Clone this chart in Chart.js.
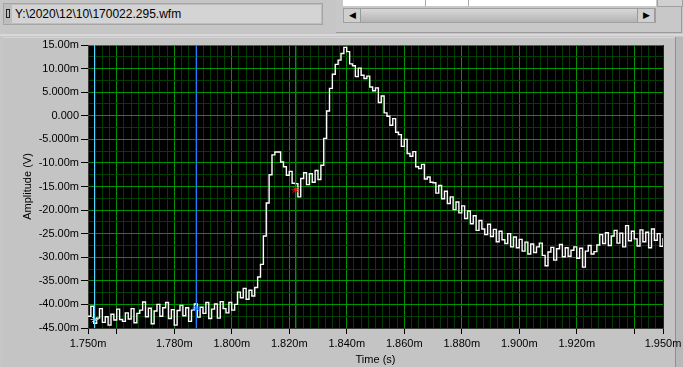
<!DOCTYPE html>
<html lang="en">
<head>
<meta charset="UTF-8">
<title>Waveform Graph</title>
<script src="https://cdn.jsdelivr.net/npm/chart.js"></script>
<style>
  body { margin: 0; width: 683px; height: 367px; overflow: hidden; background: #c6c6c6; font-family: "Liberation Sans", Arial, sans-serif; position: relative; }
  .path-box { position: absolute; left: 3px; top: 3px; width: 318px; height: 20px; border: 1px solid #a4a4a4; background: #bdbdbd; }
  .path-field { position: absolute; left: 8px; top: 1px; right: 1px; bottom: 1px; background: #d4d4d4; font-size: 12px; line-height: 18px; padding-left: 3px; color: #000; }
  .path-icon { position: absolute; left: 2px; top: 5px; width: 4px; height: 9px; border: 1px solid #222; box-sizing: border-box; }
  .side-panel { position: absolute; left: 336px; top: -2px; width: 345px; height: 34px; background: #c8c8c8; border-right: 1px solid #9a9a9a; border-bottom: 1px solid #9a9a9a; }
  .table-area { position: absolute; left: 7px; top: 0; width: 313px; height: 8px; background: #fff; }
  .table-area i { position: absolute; top: 0; width: 1px; height: 8px; background: #aaa; }
  .hscroll { position: absolute; left: 7px; top: 10px; width: 313px; height: 15px; background: linear-gradient(#d8d8d8, #b4b4b4); border: 1px solid #a0a0a0; box-sizing: border-box; }
  .btn { position: absolute; top: 0; width: 16px; height: 13px; background: #cfcfcf; border-right: 1px solid #9a9a9a; font-size: 9px; line-height: 13px; text-align: center; }
  .vbtn { position: absolute; left: 321px; top: 0; width: 24px; height: 7px; background: #d0d0d0; border: 1px solid #a0a0a0; }
  .sep { position: absolute; left: 0; top: 34px; width: 683px; height: 2px; background: #d8d8d8; }
  .graph-panel { position: absolute; left: 3px; top: 37px; width: 672px; height: 330px; background: #c4c4c4; border-top: 1px solid #d6d6d6; }
  .right-strip { position: absolute; left: 675px; top: 37px; width: 8px; height: 330px; background: #b8b8b8; border-left: 1px solid #8e8e8e; }
  #graph { position: absolute; left: 0; top: 37px; }
</style>
</head>
<body>
<div class="path-box">
  <div class="path-icon"></div>
  <div class="path-field">Y:\2020\12\10\170022.295.wfm</div>
</div>
<div class="side-panel">
  <div class="table-area"><i style="left:82px"></i><i style="left:125px"></i><i style="left:20px;width:6px;height:2px;background:#d00"></i></div>
  <div class="vbtn"></div>
  <div class="hscroll">
    <div class="btn" style="left:0">&#9664;</div>
    <div class="btn" style="left:293px;border-left:1px solid #9a9a9a">&#9654;</div>
  </div>
</div>
<div class="sep"></div>
<div class="graph-panel"></div>
<div class="right-strip"></div>
<canvas id="graph" width="683" height="330"></canvas>

<script>
// waveform: t0 and dt in ms, amplitude in mV
const T0 = 1.750;
const DT = 0.001;
const amplitude = [
  -42.5, -40.4, -44.0, -42.9, -40.9, -43.8, -42.6, -44.4, -42.1, -43.3,
  -41.0, -43.2, -43.6, -41.8, -43.1, -40.9, -43.9, -41.9, -41.2, -39.5,
  -42.6, -40.8, -44.1, -41.4, -40.0, -42.5, -40.7, -39.6, -43.0, -41.1,
  -44.4, -41.3, -40.2, -42.4, -40.7, -43.6, -41.2, -39.9, -42.7, -40.6,
  -41.9, -39.6, -43.0, -41.0, -39.9, -42.9, -39.4, -40.9, -41.8, -39.6,
  -41.2, -40.0, -37.4, -38.6, -36.6, -38.9, -37.0, -38.2, -36.4, -34.2,
  -31.5, -25.5, -18.5, -12.5, -8.3, -7.7, -7.7, -9.8, -10.8, -12.6,
  -11.8, -14.3, -14.4, -17.2, -13.3, -12.1, -14.6, -12.3, -14.1, -11.6,
  -13.5, -10.5, -4.8, 1.0, 5.8, 8.8, 10.9, 11.8, 13.2, 14.5,
  13.6, 11.0, 10.6, 8.3, 10.1, 8.6, 7.9, 8.4, 6.1, 5.3,
  5.9, 2.8, 4.2, 0.6, -0.1, -2.0, -0.6, -3.5, -4.0, -6.5,
  -5.0, -8.0, -8.6, -7.6, -10.8, -11.2, -10.3, -13.4, -13.0, -14.1,
  -14.2, -16.4, -14.8, -17.6, -16.0, -18.6, -17.2, -19.9, -18.3, -20.6,
  -19.1, -21.8, -20.2, -22.9, -21.2, -24.3, -22.2, -24.0, -25.2, -23.0,
  -25.6, -24.1, -26.7, -24.5, -26.3, -27.1, -25.0, -27.8, -25.7, -28.0,
  -26.2, -28.7, -26.8, -29.3, -27.2, -29.0, -27.8, -27.0, -29.6, -31.8,
  -28.9, -27.9, -30.6, -28.2, -27.3, -29.9, -28.0, -29.8, -28.5, -27.8,
  -30.2, -28.1, -32.1, -28.7, -27.5, -29.3, -28.8, -27.4, -25.2, -27.1,
  -24.8, -27.5, -25.5, -24.3, -27.0, -24.9, -27.8, -23.3, -26.5, -24.5,
  -26.1, -27.6, -24.2, -26.7, -24.7, -28.0, -24.0, -26.4, -25.0, -27.7,
  -25.9
];

// cursors
const cursorTimes = [1.7523, 1.7877, 1.8222];
const cursorLevels = [-43.2, -40.8, -15.7];
const cursorColors = ['#55d4ff', '#1f7fff', '#ff1010'];

// axes
const X_MIN = 1.750, X_MAX = 1.950, X_MINOR = 0.0025;
const xLabelValues = [1.750, 1.780, 1.800, 1.820, 1.840, 1.860, 1.880, 1.900, 1.920, 1.950];
const xTickLabels = ['1.750m', '1.780m', '1.800m', '1.820m', '1.840m', '1.860m', '1.880m', '1.900m', '1.920m', '1.950m'];
const xMajorValues = [1.760, 1.780, 1.800, 1.820, 1.840, 1.860, 1.880, 1.900, 1.920, 1.940];
const Y_MIN = -45, Y_MAX = 15, Y_MINOR = 2.5;
const yMajorValues = [15, 10, 5, 0, -5, -10, -15, -20, -25, -30, -35, -40, -45];
const yTickLabels = ['15.00m', '10.00m', '5.000m', '0.000', '-5.000m', '-10.00m', '-15.00m', '-20.00m', '-25.00m', '-30.00m', '-35.00m', '-40.00m', '-45.00m'];

const MAJOR = '#009400', MINOR = '#003f00';
const near = (a, b) => Math.abs(a - b) < 1e-6;
const findIn = (arr, v) => arr.findIndex(a => near(a, v));

const trace = amplitude.map((y, i) => ({ x: T0 + i * DT, y: y }));

const datasets = [];
cursorTimes.forEach((t, i) => {
  datasets.push({
    data: [{ x: t, y: cursorLevels[i] }],
    showLine: false, pointStyle: 'star', pointRadius: 4, borderWidth: 1,
    borderColor: cursorColors[i], order: 0
  });
});
datasets.push({
  data: trace, borderColor: '#ffffff', borderWidth: 1.4, pointRadius: 0,
  stepped: true, order: 1
});

const plotBg = {
  id: 'plotBg',
  beforeDraw(chart) {
    const a = chart.chartArea, ctx = chart.ctx;
    ctx.save();
    ctx.fillStyle = '#000';
    ctx.fillRect(a.left, a.top, a.right - a.left, a.bottom - a.top);
    ctx.restore();
  }
};

// vertical cursor lines, placed with the x scale
const cursorLines = {
  id: 'cursorLines',
  afterDatasetsDraw(chart) {
    const a = chart.chartArea, ctx = chart.ctx, xs = chart.scales.x;
    ctx.save();
    cursorTimes.forEach((t, i) => {
      const px = Math.floor(xs.getPixelForValue(t));
      ctx.fillStyle = cursorColors[i];
      ctx.fillRect(px, a.top, 1, a.bottom - a.top);
    });
    ctx.restore();
  }
};

Chart.defaults.font.family = '"Liberation Sans", Arial, sans-serif';
Chart.defaults.font.size = 11;
Chart.defaults.color = '#000';

new Chart(document.getElementById('graph'), {
  type: 'line',
  data: { datasets: datasets },
  plugins: [plotBg, cursorLines],
  options: {
    responsive: false,
    animation: false,
    layout: { padding: { top: 8, right: 20, left: 0, bottom: 0 } },
    plugins: { legend: { display: false }, tooltip: { enabled: false } },
    scales: {
      x: {
        type: 'linear', min: X_MIN, max: X_MAX,
        afterBuildTicks(scale) {
          const ticks = [];
          for (let k = 0; k <= 80; k++) ticks.push({ value: X_MIN + k * X_MINOR });
          scale.ticks = ticks;
        },
        afterFit(scale) { scale.height = 39; scale.paddingLeft = 0; scale.paddingRight = 0; },
        ticks: {
          autoSkip: false, maxRotation: 0, padding: 3,
          callback(v) { const j = findIn(xLabelValues, v); return j < 0 ? '' : xTickLabels[j]; }
        },
        grid: {
          tickLength: 6,
          color(c) { return findIn(xMajorValues, c.tick.value) >= 0 ? MAJOR : MINOR; },
          tickColor(c) {
            const v = c.tick.value;
            return (findIn(xMajorValues, v) >= 0 || near(v, X_MIN) || near(v, X_MAX)) ? '#000' : 'rgba(0,0,0,0)';
          }
        },
        border: { color: '#3a3a3a' },
        title: { display: true, text: 'Time (s)', padding: { top: 0, bottom: 0 } }
      },
      y: {
        type: 'linear', min: Y_MIN, max: Y_MAX,
        afterBuildTicks(scale) {
          const ticks = [];
          for (let k = 0; k <= 24; k++) ticks.push({ value: Y_MIN + k * Y_MINOR });
          scale.ticks = ticks;
        },
        afterFit(scale) { scale.width = 88; scale.paddingTop = 0; scale.paddingBottom = 0; },
        ticks: {
          autoSkip: false, padding: 2,
          callback(v) { const j = findIn(yMajorValues, v); return j < 0 ? '' : yTickLabels[j]; }
        },
        grid: {
          tickLength: 7,
          color(c) { return findIn(yMajorValues, c.tick.value) >= 0 ? MAJOR : MINOR; },
          tickColor(c) { return findIn(yMajorValues, c.tick.value) >= 0 ? '#000' : 'rgba(0,0,0,0)'; }
        },
        border: { color: '#3a3a3a' },
        title: { display: true, text: 'Amplitude (V)', padding: { top: 21, bottom: 0 } }
      }
    }
  }
});
</script>
</body>
</html>
